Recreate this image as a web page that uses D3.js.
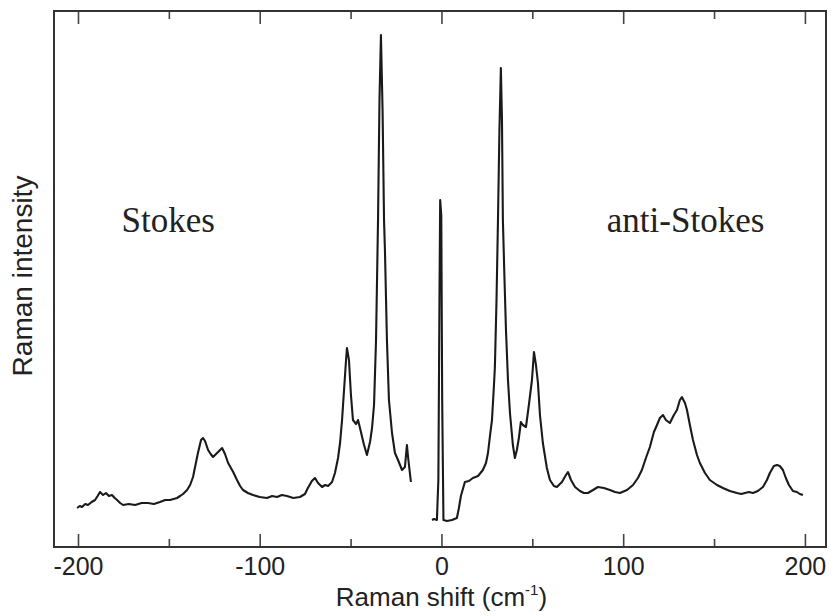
<!DOCTYPE html>
<html>
<head>
<meta charset="utf-8">
<script src="https://cdn.jsdelivr.net/npm/d3@7"></script>
<style>
  html, body { margin: 0; padding: 0; background: #fff; }
  svg { display: block; }
</style>
</head>
<body>
<svg id="chart" width="831" height="616"></svg>
<script>
// Raman shift (cm^-1) and intensity (arbitrary units) — Stokes branch
const stokesShift = [-200.5,-199.0,-197.8,-196.0,-194.5,-192.5,-190.6,-189.2,-187.9,-186.2,-184.6,-183.0,-181.3,-179.8,-178.5,-176.8,-175.2,-172.0,-168.6,-165.0,-161.5,-158.2,-154.9,-152.0,-149.4,-147.4,-145.5,-143.8,-142.2,-140.0,-138.3,-136.7,-134.0,-132.3,-131.2,-130.1,-128.4,-127.0,-125.7,-122.9,-120.7,-119.1,-117.4,-114.6,-112.5,-110.8,-109.2,-106.5,-103.7,-100.0,-96.0,-93.2,-90.5,-87.8,-85.0,-81.5,-77.9,-75.1,-73.5,-71.3,-69.6,-67.9,-65.7,-64.0,-62.4,-60.2,-58.6,-56.9,-55.8,-54.7,-53.6,-52.5,-52.0,-50.9,-49.8,-48.7,-47.0,-45.9,-44.3,-42.6,-41.0,-39.3,-38.2,-37.1,-36.0,-34.9,-34.1,-33.3,-32.4,-31.6,-31.1,-30.0,-28.9,-27.2,-25.6,-23.9,-21.7,-20.1,-19.0,-18.2,-16.8];
const stokesInt   = [39,41,40,43,42,45,47,51,55,52,54,51,52,49,47,44,42,43,42,44,44,43,45,47,47,48,49,51,53,57,62,70,94,107,109,106,97,93,90,95,99,93,84,75,67,61,57,54,52,50,49,51,50,52,51,49,50,53,59,66,69,64,60,62,61,65,74,89,104,127,157,187,199,187,152,127,123,127,115,102,92,105,119,142,207,327,447,512,437,327,297,207,147,114,94,87,77,80,102,87,65];

// anti-Stokes branch (including the Rayleigh remnant at 0)
const antiShift = [-5.2,-4.1,-2.5,-1.7,-1.1,-0.7,-0.1,0.4,1.1,3.0,5.8,8.5,9.6,10.7,12.9,15.1,17.3,20.1,22.8,24.5,25.6,26.7,27.8,28.9,29.4,30.3,31.1,31.9,32.7,33.3,33.8,34.7,35.5,36.6,37.7,39.3,40.4,41.5,42.6,43.7,44.8,46.5,48.1,49.8,50.9,52.0,53.1,54.2,55.8,58.0,59.7,61.9,63.5,66.3,68.5,69.6,71.3,73.5,76.2,78.4,80.6,83.4,86.1,89.4,92.7,95.5,98.2,102.1,105.4,108.1,110.3,112.5,114.7,116.9,118.6,120.2,121.9,123.5,125.7,127.9,129.6,131.2,132.3,134.0,135.1,136.7,138.4,140.6,142.2,145.0,147.7,151.6,154.9,158.7,162.6,165.0,167.0,169.2,171.4,174.1,176.9,179.1,180.7,182.9,184.6,186.2,187.9,189.5,191.2,193.4,195.6,197.2,198.9];
const antiInt   = [27,28,27,67,247,347,332,147,27,26,27,29,39,51,65,66,69,71,77,84,94,111,127,162,180,247,327,417,479,427,327,267,217,167,134,102,89,97,109,125,122,120,142,167,195,182,164,132,104,79,67,61,60,65,72,75,67,60,56,54,54,57,60,59,57,55,54,57,62,69,77,89,100,115,122,129,132,127,124,132,137,147,150,144,137,122,107,92,84,74,67,62,59,56,54,53,54,55,54,56,60,67,74,81,82,81,77,69,62,56,55,53,52];

const majorTicks = [-200, -100, 0, 100, 200];
const minorTicks = [-150, -50, 50, 150];
const xTitle = "Raman shift (cm";
const xTitleSup = "-1";
const yTitle = "Raman intensity";
const labels = [{text: "Stokes", x: -176}, {text: "anti-Stokes", x: 91}];

const svg = d3.select("#chart");
const L = 54, R = 826, T = 11, B = 547;
const x = d3.scaleLinear().domain([-213.2, 211.6]).range([L, R]);
const y = d3.scaleLinear().domain([0, 536]).range([B, T]);

const ink = "#222";

function styleAxis(g) {
  g.select(".domain").remove();
  g.selectAll(".tick line").attr("stroke", "#444").attr("stroke-width", 1.6);
}
svg.append("g").attr("transform", `translate(0,${B})`)
  .call(d3.axisBottom(x).tickValues(majorTicks).tickSize(-13).tickFormat(d => String(d)))
  .call(styleAxis)
  .call(g => g.selectAll(".tick text").attr("y", 28).attr("dy", null)
      .attr("font-family", "Liberation Sans, Arial, sans-serif").attr("font-size", 25).attr("fill", ink));
svg.append("g").attr("transform", `translate(0,${B})`)
  .call(d3.axisBottom(x).tickValues(minorTicks).tickSize(-8).tickFormat(""))
  .call(styleAxis);
svg.append("g").attr("transform", `translate(0,${T})`)
  .call(d3.axisTop(x).tickValues(majorTicks).tickSize(-13).tickFormat(""))
  .call(styleAxis);
svg.append("g").attr("transform", `translate(0,${T})`)
  .call(d3.axisTop(x).tickValues(minorTicks).tickSize(-8).tickFormat(""))
  .call(styleAxis);

svg.append("rect").attr("x", L).attr("y", T).attr("width", R - L).attr("height", B - T)
  .attr("fill", "none").attr("stroke", "#333").attr("stroke-width", 2);

const line = d3.line().x(d => x(d[0])).y(d => y(d[1]));
const segs = [d3.zip(stokesShift, stokesInt), d3.zip(antiShift, antiInt)];
svg.selectAll("path.spec").data(segs).join("path").attr("class", "spec")
  .attr("d", line).attr("fill", "none").attr("stroke", "#1a1a1a")
  .attr("stroke-width", 2.1).attr("stroke-linejoin", "round");

const xt = svg.append("text").attr("x", x(0)).attr("y", 606).attr("text-anchor", "middle")
  .attr("font-family", "Liberation Sans, Arial, sans-serif").attr("font-size", 26).attr("fill", ink);
xt.append("tspan").text(xTitle);
xt.append("tspan").attr("font-size", 15).attr("dy", -11).text(xTitleSup);
xt.append("tspan").attr("dy", 11).text(")");

svg.append("text").attr("transform", `translate(32,276) rotate(-90)`).attr("text-anchor", "middle")
  .attr("font-family", "Liberation Sans, Arial, sans-serif").attr("font-size", 28).attr("fill", ink)
  .text(yTitle);

svg.selectAll("text.branch").data(labels).join("text").attr("class", "branch")
  .attr("x", d => x(d.x)).attr("y", 232)
  .attr("font-family", "Liberation Serif, Times New Roman, serif").attr("font-size", 35).attr("fill", ink)
  .text(d => d.text);
</script>
</body>
</html>
